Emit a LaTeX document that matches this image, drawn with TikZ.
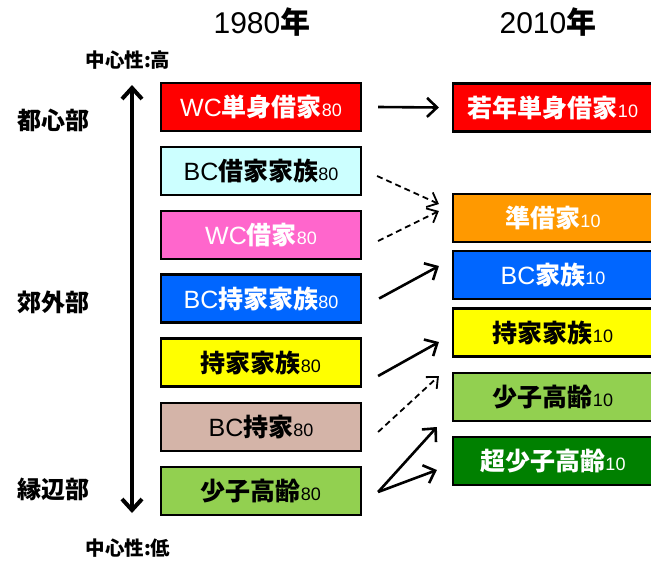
\documentclass[tikz,border=0pt]{standalone}
\usepackage{fontspec}
\setmainfont{Liberation Sans}
\newfontfamily\jpfont{Noto Sans CJK JP}
\usetikzlibrary{arrows.meta,calc}
\newcommand\jb[1]{{\jpfont\bfseries #1}}
\newcommand\nm[1]{{\fontsize{18}{18}\selectfont #1}}
\newcommand\lowr[1]{\raisebox{-3.5pt}{#1}}
\definecolor{cRed}{HTML}{FF0000}
\definecolor{cCyan}{HTML}{CCFFFF}
\definecolor{cPink}{HTML}{FF66CC}
\definecolor{cBlue}{HTML}{0066FF}
\definecolor{cYellow}{HTML}{FFFF00}
\definecolor{cTan}{HTML}{D4B4A8}
\definecolor{cLGreen}{HTML}{92D050}
\definecolor{cOrange}{HTML}{FF9900}
\definecolor{cDGreen}{HTML}{008000}
\begin{document}
\begin{tikzpicture}[x=1pt,y=-1pt,
  box/.style={draw=black,line width=2.2pt,minimum width=200pt,minimum height=48pt,inner sep=0pt,font=\fontsize{25}{25}\selectfont},
  arr/.style={line width=2.6pt,-{Straight Barb[length=10pt,width=19pt]}},
  darr/.style={line width=1.8pt,dash pattern=on 6pt off 4pt,-{Straight Barb[length=9pt,width=16pt]}},
  varr/.style={line width=4pt,{Straight Barb[length=11pt,width=20pt]}-{Straight Barb[length=11pt,width=20pt]}},
  title/.style={font=\fontsize{30}{30}\selectfont},
  region/.style={font=\fontsize{24}{24}\selectfont\jpfont\bfseries},
  cent/.style={font=\fontsize{19.5}{20}\selectfont\jpfont\bfseries}
]
\useasboundingbox (0,0) rectangle (651,560);
\node[title] (t1) at (262,22) {1980\jb{年}};
\node[title] (t2) at (548,22) {2010\jb{年}};

\node[cent] (ch) at (128,60) {中心性:高};
\node[cent] (cl) at (128,548) {中心性:低};
\node[region] (r1) at (53,120) {都心部};
\node[region] (r2) at (53,302) {郊外部};
\node[region] (r3) at (53,489) {縁辺部};
\coordinate (vt) at (132,85);
\coordinate (vb) at (132,513);
\draw[varr] (vt) -- (vb);

\node[box,fill=cRed,text=white] (L1) at (261,107) {\lowr{WC\jb{単身借家}\nm{80}}};
\node[box,fill=cCyan,text=black] (L2) at (261,171) {\lowr{BC\jb{借家家族}\nm{80}}};
\node[box,fill=cPink,text=white] (L3) at (261,235) {\lowr{WC\jb{借家}\nm{80}}};
\node[box,fill=cBlue,text=white] (L4) at (261,298.5) {\lowr{BC\jb{持家家族}\nm{80}}};
\node[box,fill=cYellow,text=black] (L5) at (261,362.5) {\lowr{\jb{持家家族}\nm{80}}};
\node[box,fill=cTan,text=black] (L6) at (261,427) {\lowr{BC\jb{持家}\nm{80}}};
\node[box,fill=cLGreen,text=black] (L7) at (261,491) {\lowr{\jb{少子高齢}\nm{80}}};

\node[box,fill=cRed,text=white] (R1) at (553,107.5) {\lowr{\jb{若年単身借家}\nm{10}}};
\node[box,fill=cOrange,text=white] (R2) at (553,218) {\lowr{\jb{準借家}\nm{10}}};
\node[box,fill=cBlue,text=white] (R3) at (553,275) {\lowr{BC\jb{家族}\nm{10}}};
\node[box,fill=cYellow,text=black] (R4) at (553,332.5) {\lowr{\jb{持家家族}\nm{10}}};
\node[box,fill=cLGreen,text=black] (R5) at (553,397) {\lowr{\jb{少子高齢}\nm{10}}};
\node[box,fill=cDGreen,text=white] (R6) at (553,461) {\lowr{\jb{超少子高齢}\nm{10}}};

\draw[arr] ([xshift=16pt]L1.east) -- ([xshift=-13pt]R1.west);
\draw[darr] ([xshift=15pt,yshift=-5pt]L2.east) -- ([xshift=-13pt,yshift=14pt]R2.west);
\draw[darr] ([xshift=16pt,yshift=-6pt]L3.east) -- ([xshift=-13pt,yshift=7pt]R2.west);
\draw[arr] ([xshift=17pt]L4.east) -- ([xshift=-13pt,yshift=9pt]R3.west);
\draw[arr] ([xshift=16pt,yshift=-13.5pt]L5.east) -- ([xshift=-13pt,yshift=-9.5pt]R4.west);
\draw[darr] ([xshift=16pt,yshift=-5pt]L6.east) -- ([xshift=-13pt,yshift=21pt]R5.west);
\draw[arr] ([xshift=16pt,yshift=-1pt]L7.east) -- ([xshift=-15pt,yshift=-30pt]R5.west);
\draw[arr] ([xshift=16pt,yshift=-1pt]L7.east) -- ([xshift=-15pt,yshift=-9pt]R6.west);
\end{tikzpicture}
\end{document}
